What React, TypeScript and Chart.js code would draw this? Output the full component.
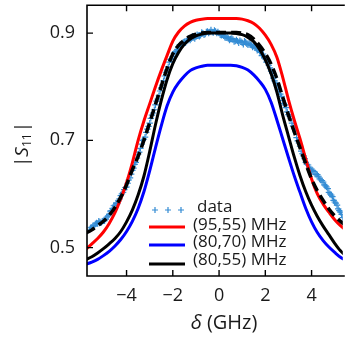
import React, { useEffect, useRef } from "react";
import { Chart, registerables } from "chart.js";

Chart.register(...registerables);

const FONT = "'Open Sans', 'DejaVu Sans', sans-serif";

// axis setup
const xTicks = [-4, -2, 0, 2, 4];
const yTicks = [0.5, 0.7, 0.9];
const xMin = -5.71;
const xMax = 5.35;
const yMin = 0.447;
const yMax = 0.952;

// model curves (GHz)
const curveX = [
  -5.75, -5.5, -5.25, -5.0, -4.75, -4.5, -4.25, -4.0, -3.75, -3.5, -3.25, -3.0,
  -2.75, -2.5, -2.25, -2.0, -1.75, -1.5, -1.25, -1.0, -0.75, -0.5, -0.25, 0,
  0.25, 0.5, 0.75, 1.0, 1.25, 1.5, 1.75, 2.0, 2.25, 2.5, 2.75, 3.0, 3.25, 3.5,
  3.75, 4.0, 4.25, 4.5, 4.75, 5.0, 5.25, 5.5,
];
const red9555 = [
  0.497, 0.507, 0.517, 0.529, 0.545, 0.565, 0.591, 0.621, 0.658, 0.7, 0.736, 0.768,
  0.8, 0.83, 0.858, 0.885, 0.902, 0.913, 0.92, 0.924, 0.926, 0.927, 0.927, 0.927,
  0.927, 0.927, 0.927, 0.926, 0.923, 0.918, 0.909, 0.896, 0.879, 0.855, 0.818, 0.776, 0.738, 0.703,
  0.665, 0.628, 0.6, 0.581, 0.566, 0.552, 0.541, 0.532,
];
const blue8070 = [
  0.469, 0.473, 0.478, 0.485, 0.493, 0.503, 0.515, 0.53, 0.549, 0.573, 0.604, 0.643,
  0.686, 0.727, 0.764, 0.79, 0.807, 0.82, 0.83, 0.835, 0.838, 0.84, 0.84, 0.84,
  0.84, 0.84, 0.839, 0.836, 0.831, 0.822, 0.81, 0.795, 0.771, 0.738, 0.703, 0.668, 0.634, 0.603,
  0.573, 0.548, 0.528, 0.513, 0.501, 0.491, 0.482, 0.476,
];
const black8055 = [
  0.478, 0.483, 0.49, 0.498, 0.507, 0.517, 0.53, 0.548, 0.57, 0.598, 0.633, 0.679,
  0.729, 0.774, 0.813, 0.843, 0.864, 0.879, 0.889, 0.895, 0.898, 0.9, 0.9, 0.9,
  0.9, 0.9, 0.899, 0.897, 0.892, 0.884, 0.87, 0.85, 0.824, 0.79, 0.747, 0.708, 0.669, 0.634,
  0.604, 0.579, 0.558, 0.54, 0.524, 0.508, 0.494, 0.484,
];
const dashedFit = [
  0.527, 0.533, 0.541, 0.549, 0.56, 0.575, 0.594, 0.617, 0.645, 0.67, 0.7, 0.733,
  0.767, 0.801, 0.834, 0.861, 0.877, 0.887, 0.894, 0.898, 0.9, 0.901, 0.901, 0.901,
  0.901, 0.901, 0.901, 0.9, 0.897, 0.889, 0.877, 0.862, 0.842, 0.815, 0.781, 0.747, 0.716, 0.686,
  0.656, 0.628, 0.606, 0.588, 0.572, 0.559, 0.549, 0.541,
];

// measured data (detuning in GHz, |S11|)
const dataX = [
  -5.6, -5.55, -5.5, -5.45, -5.4, -5.35, -5.3, -5.25, -5.2, -5.15, -5.1, -5.05,
  -5.0, -4.95, -4.9, -4.85, -4.8, -4.75, -4.7, -4.65, -4.6, -4.55, -4.5, -4.45,
  -4.4, -4.35, -4.3, -4.25, -4.2, -4.15, -4.1, -4.05, -4.0, -3.95, -3.9, -3.85,
  -3.8, -3.75, -3.7, -3.65, -3.6, -3.55, -3.5, -3.45, -3.4, -3.35, -3.3, -3.25,
  -3.2, -3.15, -3.1, -3.05, -3.0, -2.95, -2.9, -2.85, -2.8, -2.75, -2.7, -2.65,
  -2.6, -2.55, -2.5, -2.45, -2.4, -2.35, -2.3, -2.25, -2.2, -2.15, -2.1, -2.05,
  -2.0, -1.95, -1.9, -1.85, -1.8, -1.75, -1.7, -1.65, -1.6, -1.55, -1.5, -1.45,
  -1.4, -1.35, -1.3, -1.25, -1.2, -1.15, -1.1, -1.05, -1.0, -0.95, -0.9, -0.85,
  -0.8, -0.75, -0.7, -0.65, -0.6, -0.55, -0.5, -0.45, -0.4, -0.35, -0.3, -0.25,
  -0.2, -0.15, -0.1, -0.05, 0.0, 0.05, 0.1, 0.15, 0.2, 0.25, 0.3, 0.35,
  0.4, 0.45, 0.5, 0.55, 0.6, 0.65, 0.7, 0.75, 0.8, 0.85, 0.9, 0.95,
  1.0, 1.05, 1.1, 1.15, 1.2, 1.25, 1.3, 1.35, 1.4, 1.45, 1.5, 1.55,
  1.6, 1.65, 1.7, 1.75, 1.8, 1.85, 1.9, 1.95, 2.0, 2.05, 2.1, 2.15,
  2.2, 2.25, 2.3, 2.35, 2.4, 2.45, 2.5, 2.55, 2.6, 2.65, 2.7, 2.75,
  2.8, 2.85, 2.9, 2.95, 3.0, 3.05, 3.1, 3.15, 3.2, 3.25, 3.3, 3.35,
  3.4, 3.45, 3.5, 3.55, 3.6, 3.65, 3.7, 3.75, 3.8, 3.85, 3.9, 3.95,
  4.0, 4.05, 4.1, 4.15, 4.2, 4.25, 4.3, 4.35, 4.4, 4.45, 4.5, 4.55,
  4.6, 4.65, 4.7, 4.75, 4.8, 4.85, 4.9, 4.95, 5.0, 5.05, 5.1, 5.15,
  5.2, 5.25, 5.3, 5.35,
];
const dataY = [
  0.533, 0.537, 0.538, 0.541, 0.54, 0.544, 0.546, 0.545, 0.549, 0.548, 0.546, 0.549,
  0.55, 0.55, 0.553, 0.557, 0.559, 0.562, 0.568, 0.569, 0.573, 0.578, 0.579, 0.583,
  0.582, 0.587, 0.591, 0.597, 0.6, 0.603, 0.608, 0.612, 0.613, 0.62, 0.626, 0.63,
  0.637, 0.644, 0.648, 0.655, 0.659, 0.667, 0.674, 0.678, 0.685, 0.693, 0.7, 0.702,
  0.706, 0.715, 0.721, 0.726, 0.732, 0.741, 0.747, 0.751, 0.757, 0.766, 0.773, 0.777,
  0.783, 0.792, 0.798, 0.803, 0.811, 0.82, 0.827, 0.831, 0.837, 0.846, 0.851, 0.852,
  0.856, 0.862, 0.865, 0.866, 0.869, 0.875, 0.878, 0.877, 0.879, 0.883, 0.884, 0.882,
  0.885, 0.889, 0.89, 0.887, 0.89, 0.894, 0.892, 0.89, 0.893, 0.897, 0.895, 0.894,
  0.896, 0.901, 0.9, 0.897, 0.898, 0.902, 0.903, 0.9, 0.902, 0.906, 0.902, 0.901,
  0.905, 0.903, 0.9, 0.902, 0.9, 0.897, 0.896, 0.898, 0.895, 0.892, 0.891, 0.893,
  0.89, 0.887, 0.889, 0.89, 0.888, 0.884, 0.885, 0.887, 0.885, 0.882, 0.886, 0.884,
  0.882, 0.879, 0.885, 0.883, 0.88, 0.878, 0.881, 0.879, 0.877, 0.874, 0.876, 0.874,
  0.872, 0.868, 0.87, 0.866, 0.864, 0.858, 0.861, 0.855, 0.852, 0.846, 0.847, 0.84,
  0.835, 0.829, 0.825, 0.816, 0.811, 0.807, 0.802, 0.795, 0.791, 0.786, 0.782, 0.774,
  0.769, 0.766, 0.761, 0.753, 0.748, 0.745, 0.74, 0.732, 0.727, 0.722, 0.716, 0.705,
  0.699, 0.695, 0.689, 0.68, 0.675, 0.671, 0.666, 0.659, 0.655, 0.654, 0.65, 0.645,
  0.643, 0.644, 0.642, 0.637, 0.636, 0.636, 0.633, 0.628, 0.626, 0.625, 0.622, 0.617,
  0.615, 0.613, 0.61, 0.603, 0.6, 0.598, 0.595, 0.588, 0.585, 0.583, 0.579, 0.572,
  0.569, 0.566, 0.562, 0.556,
];

const legendLabels = ["data", "(95,55) MHz", "(80,70) MHz", "(80,55) MHz"];

const DATA_COLOR = "rgb(52,140,212)";
const RED = "#ff0000";
const BLUE = "#0000ff";
const BLACK = "#000000";

const fmtX = (v: number) => (v < 0 ? "\u2212" + Math.abs(v) : String(v));

const decorPlugin = {
  id: "decor",
  afterDraw(chart: any) {
    const { ctx, chartArea: a, scales } = chart;
    const xs = scales.x;
    const ys = scales.y;
    ctx.save();
    // frame (left, top, bottom)
    ctx.strokeStyle = "#000";
    ctx.lineWidth = 1.6;
    ctx.beginPath();
    ctx.moveTo(a.right + 2, a.top);
    ctx.lineTo(a.left, a.top);
    ctx.lineTo(a.left, a.bottom);
    ctx.lineTo(a.right + 2, a.bottom);
    ctx.stroke();
    // inward tick marks
    ctx.lineWidth = 1.4;
    ctx.beginPath();
    xs.ticks.forEach((t: any) => {
      const px = xs.getPixelForValue(t.value);
      ctx.moveTo(px, a.bottom);
      ctx.lineTo(px, a.bottom - 6);
      ctx.moveTo(px, a.top);
      ctx.lineTo(px, a.top + 6);
    });
    ys.ticks.forEach((t: any) => {
      const py = ys.getPixelForValue(t.value);
      ctx.moveTo(a.left, py);
      ctx.lineTo(a.left + 6, py);
    });
    ctx.stroke();

    // x title: δ (GHz)
    ctx.fillStyle = "#1a1a1a";
    ctx.textBaseline = "middle";
    ctx.textAlign = "left";
    const fi = `italic 20px ${FONT}`;
    const fn = `20px ${FONT}`;
    ctx.font = fi;
    const w1 = ctx.measureText("\u03b4").width;
    ctx.font = fn;
    const w2 = ctx.measureText(" (GHz)").width;
    const sx = 224 - (w1 + w2) / 2;
    const ty = 323;
    ctx.font = fi;
    ctx.fillText("\u03b4", sx, ty);
    ctx.font = fn;
    ctx.fillText(" (GHz)", sx + w1, ty);

    // y title: |S11|
    ctx.save();
    ctx.translate(23, 145);
    ctx.rotate(-Math.PI / 2);
    const parts = [
      { t: "|", f: `19px ${FONT}`, dy: 0 },
      { t: "S", f: `italic 19px ${FONT}`, dy: 0 },
      { t: "11", f: `12px ${FONT}`, dy: 5 },
      { t: "|", f: `19px ${FONT}`, dy: 0 },
    ];
    let tot = 0;
    parts.forEach((p) => {
      ctx.font = p.f;
      tot += ctx.measureText(p.t).width;
    });
    let cx = -tot / 2;
    parts.forEach((p) => {
      ctx.font = p.f;
      ctx.fillText(p.t, cx, p.dy);
      cx += ctx.measureText(p.t).width + (p.t === "11" ? 1 : 0);
    });
    ctx.restore();

    // legend
    ctx.font = `17px ${FONT}`;
    ctx.fillStyle = "#1a1a1a";
    ctx.strokeStyle = DATA_COLOR;
    ctx.lineWidth = 1.2;
    ctx.beginPath();
    [155, 168, 181].forEach((px) => {
      ctx.moveTo(px - 3, 210);
      ctx.lineTo(px + 3, 210);
      ctx.moveTo(px, 207);
      ctx.lineTo(px, 213);
    });
    ctx.stroke();
    ctx.fillText(legendLabels[0], 197, 207);
    const rows = [
      { c: RED, ly: 227, ty: 225 },
      { c: BLUE, ly: 245, ty: 242 },
      { c: BLACK, ly: 264, ty: 260 },
    ];
    rows.forEach((r, i) => {
      ctx.strokeStyle = r.c;
      ctx.lineWidth = 3;
      ctx.beginPath();
      ctx.moveTo(149, r.ly);
      ctx.lineTo(185, r.ly);
      ctx.stroke();
      ctx.fillText(legendLabels[i + 1], 193, r.ty);
    });
    ctx.restore();
  },
};

export default function App() {
  const ref = useRef<HTMLCanvasElement>(null);
  useEffect(() => {
    const pts = (ys: number[]) => curveX.map((x, i) => ({ x, y: ys[i] }));
    const chart = new Chart(ref.current as HTMLCanvasElement, {
      type: "line",
      data: {
        datasets: [
          {
            label: "fit",
            data: pts(dashedFit),
            borderColor: BLACK,
            borderWidth: 3.5,
            borderDash: [10, 5],
            pointRadius: 0,
            cubicInterpolationMode: "monotone",
            fill: false,
          },
          {
            label: legendLabels[3],
            data: pts(black8055),
            borderColor: BLACK,
            borderWidth: 3,
            pointRadius: 0,
            cubicInterpolationMode: "monotone",
            fill: false,
          },
          {
            label: legendLabels[2],
            data: pts(blue8070),
            borderColor: BLUE,
            borderWidth: 3,
            pointRadius: 0,
            cubicInterpolationMode: "monotone",
            fill: false,
          },
          {
            label: legendLabels[1],
            data: pts(red9555),
            borderColor: RED,
            borderWidth: 3,
            pointRadius: 0,
            cubicInterpolationMode: "monotone",
            fill: false,
          },
          {
            label: legendLabels[0],
            data: dataX.map((x, i) => ({ x, y: dataY[i] })),
            showLine: false,
            pointStyle: "cross",
            pointRadius: 3.2,
            pointBorderWidth: 1.2,
            pointBorderColor: DATA_COLOR,
            pointBackgroundColor: DATA_COLOR,
            borderColor: DATA_COLOR,
          },
        ] as any,
      },
      options: {
        responsive: false,
        animation: false,
        events: [],
        layout: { padding: { top: 5, left: 0, right: 0, bottom: 0 } },
        plugins: { legend: { display: false }, tooltip: { enabled: false } },
        scales: {
          x: {
            type: "linear",
            position: "bottom",
            min: xMin,
            max: xMax,
            grid: { display: false, drawTicks: false },
            border: { display: false },
            afterBuildTicks: (s: any) => {
              s.ticks = xTicks.map((v) => ({ value: v }));
            },
            afterFit: (s: any) => {
              s.height = 61;
              s.paddingLeft = 0;
              s.paddingRight = 0;
            },
            ticks: {
              font: { family: FONT, size: 18 },
              color: "#1a1a1a",
              padding: 9,
              maxRotation: 0,
              autoSkip: false,
              callback: (v: any) => fmtX(Number(v)),
            },
          },
          y: {
            type: "linear",
            position: "left",
            min: yMin,
            max: yMax,
            grid: { display: false, drawTicks: false },
            border: { display: false },
            afterBuildTicks: (s: any) => {
              s.ticks = yTicks.map((v) => ({ value: v }));
            },
            afterFit: (s: any) => {
              s.width = 87;
              s.paddingTop = 0;
              s.paddingBottom = 0;
            },
            ticks: {
              font: { family: FONT, size: 18 },
              color: "#1a1a1a",
              padding: 12,
              autoSkip: false,
              callback: (v: any) => Number(v).toFixed(1),
            },
          },
        },
      } as any,
      plugins: [decorPlugin],
    });
    return () => chart.destroy();
  }, []);
  return (
    <div
      style={{
        position: "fixed",
        left: 0,
        top: 0,
        width: 348,
        height: 337,
        background: "#fff",
        overflow: "hidden",
      }}
    >
      <canvas ref={ref} width={348} height={337} style={{ display: "block", width: 348, height: 337 }} />
    </div>
  );
}
